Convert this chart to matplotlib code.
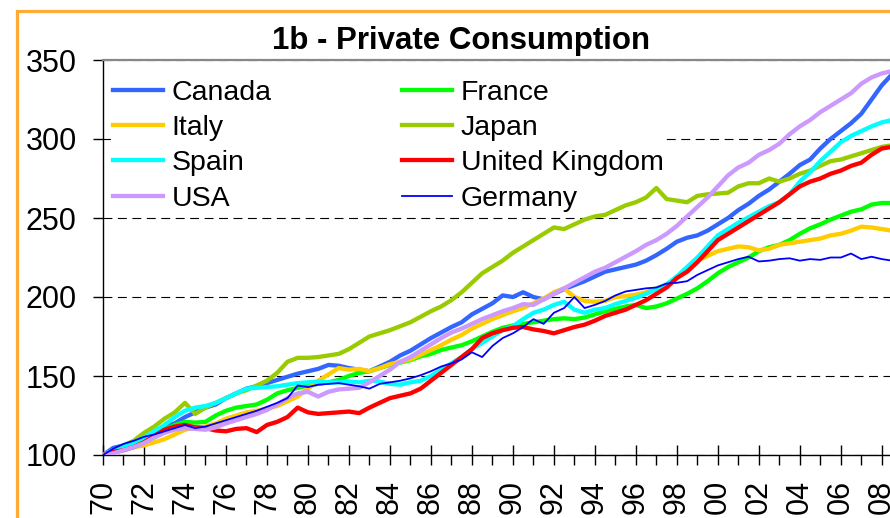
import numpy as np
import matplotlib
matplotlib.use("Agg")
import matplotlib.pyplot as plt
from matplotlib.patches import Rectangle

plt.rcParams["font.family"] = ["Liberation Sans", "DejaVu Sans"]

# half-yearly index, 1970 = 100
years = np.arange(1970, 2009, 0.5)

canada = [100, 104.5, 106, 108.5, 111, 114, 118, 120, 124, 127,
          130, 132, 136, 139, 142, 143.5, 145.5, 147.5, 149.5, 151.5,
          153, 154.5, 157, 156.5, 155, 154, 153, 156, 159, 163,
          166, 170, 174, 177.5, 181, 184, 189, 192.5, 196, 201,
          200, 203, 200, 198.5, 202, 205, 207.5, 210, 213, 216,
          217.5, 219, 220.5, 223, 226.5, 230.5, 235, 237.5, 239, 242,
          246, 250, 255, 259, 264, 268, 273, 278, 283.5, 287,
          294, 300, 305, 310, 316, 325, 334, 341]
france = [100, 102, 104, 106, 109, 112, 116, 119, 121, 120.5,
          121, 125, 128, 130, 131, 132, 135, 139, 141, 142.5,
          144, 145, 146, 147.5, 150, 152, 153, 155, 157, 158.5,
          160, 162.5, 164, 166.5, 168, 169.5, 172, 175, 178, 180.5,
          182, 183, 184, 185, 186, 186.5, 186, 187, 189, 191,
          192.5, 194, 195, 193, 194, 196, 199, 202, 205.5, 210,
          215, 219, 222, 225, 229, 231.5, 233, 236, 240, 243.5,
          246, 249, 251.5, 254, 255.5, 258.5, 259.5, 259.5]
italy = [100, 102, 104, 105, 106, 108, 110, 113, 116, 117.5,
         118, 120, 123, 125, 127, 128, 129.5, 131, 134, 137,
         142, 147, 151, 155, 154, 154.5, 153, 155, 157.5, 159,
         160.5, 163.5, 166.5, 169.5, 173, 176, 180, 183, 186, 188.5,
         191, 193, 196, 199, 203, 205.5, 200, 197.5, 197, 197.5,
         200, 200.5, 201.5, 203, 205.5, 208, 212, 217, 223, 226,
         229, 230.5, 232, 231.5, 229.5, 230.5, 233, 234, 235, 236,
         237, 239, 240, 242, 244.5, 244, 243, 242]
japan = [100, 103, 106, 109, 114, 118, 123, 127, 133, 126,
         130, 133, 136, 139, 141, 144, 147, 152, 159, 161.5,
         161.5, 162, 163, 164, 167, 171, 175, 177, 179, 181.5,
         184, 187.5, 191, 194, 198, 203, 209, 215, 219, 223,
         228, 232, 236, 240, 244, 243, 246, 249, 251, 252,
         255, 258, 260, 263, 269, 262, 261, 260, 264, 265,
         265.5, 266, 270, 272, 272, 275, 273, 275, 278, 280,
         283, 286, 287, 289, 291, 293, 295, 296]
spain = [100, 103, 105, 108, 111, 115, 119, 124, 128, 130,
         131, 133, 136, 139, 142, 142.5, 143, 143.5, 144.5, 145.5,
         146, 146.5, 146, 146, 146.5, 146, 147, 146.5, 145, 144.5,
         146, 147, 150, 154, 158, 162, 167, 171, 175, 179,
         181.5, 186, 190, 192, 195, 197, 192, 190, 192, 193,
         195.5, 197.5, 199.5, 202, 205, 208, 213, 219, 225, 232,
         239, 243, 247, 250.5, 254, 257.5, 260, 265, 273, 279,
         286, 292, 298, 302, 305, 308, 310.5, 312]
uk = [100, 102, 103, 105, 108, 112, 116, 118, 119, 117.5,
      117, 115.5, 115, 116.5, 117, 114.5, 119, 121, 124, 130,
      127, 126, 126.5, 127, 127.5, 126.5, 130, 133, 136, 137.5,
      139, 142, 147, 152, 157, 162, 167, 174, 177, 179,
      180.5, 181, 179.5, 178.5, 177, 179, 181, 182.5, 185, 188,
      190, 192, 195, 198, 202, 206, 212, 216, 222, 229,
      236, 240, 244, 248, 252, 256, 260, 265, 270, 273,
      275, 278, 280, 283, 285, 290, 294, 295]
usa = [100, 101, 103, 105, 107.5, 111, 114, 116, 117, 116.5,
       116, 117.5, 120, 122, 124, 126, 128.5, 132, 136, 139,
       140, 137, 140, 141.5, 142, 142.5, 146, 150, 154, 159,
       162, 166, 170, 174, 177.5, 180, 183, 186, 188.5, 191,
       193, 195.5, 195, 198.5, 202, 205.5, 209, 212.5, 216, 218.5,
       222, 225.5, 229, 233, 236, 240, 245, 251, 257, 263,
       270, 277, 282, 285, 290, 293, 297, 303, 308, 312,
       317, 321, 325, 329, 335, 339, 341.5, 343]
germany = [100, 104, 107, 109, 111.5, 113, 115, 117, 119, 117,
           118, 120, 122, 124, 126, 128, 130.5, 133, 136, 144,
           143, 144.5, 145, 145.5, 144.5, 143.5, 142, 145, 146, 147,
           148.5, 150.5, 153, 156, 158, 160.5, 165, 162, 169, 174,
           177, 181, 186, 183, 190, 193, 200, 193, 195, 197.5,
           201, 203.5, 204.5, 205.5, 206, 208.5, 209, 210, 214, 217,
           220, 222, 224, 225.5, 222.5, 223, 224, 224.5, 223, 224,
           223.5, 225, 225, 227.5, 224, 225.5, 224, 223]

# plotting order as in the source workbook
series = [
    ("Canada", canada, "#3366FF", 3.1),
    ("France", france, "#00FF00", 3.1),
    ("Italy", italy, "#FFCC00", 3.1),
    ("Japan", japan, "#99CC00", 3.1),
    ("Spain", spain, "#00FFFF", 3.1),
    ("United Kingdom", uk, "#FF0000", 3.1),
    ("USA", usa, "#CC99FF", 3.1),
    ("Germany", germany, "#0000FF", 1.3),
]

fig = plt.figure(figsize=(8.9, 5.18), dpi=100)
ax = fig.add_axes([103 / 890, 1 - 455 / 518, 787 / 890, 395 / 518])

lines = {}
for name, vals, color, lw in series:
    (ln,) = ax.plot(years, vals, color=color, lw=lw, label=name, zorder=3,
                    solid_joinstyle="round")
    lines[name] = ln

ax.set_xlim(1970, 2008.4)
ax.set_ylim(100, 350)
ax.set_yticks(np.arange(100, 351, 50))
ax.set_xticks(np.arange(1970, 2009, 2))
ax.set_xticks(np.arange(1971, 2009, 2), minor=True)
ax.set_xticklabels([f"{y % 100:02d}" for y in range(1970, 2009, 2)], rotation=90)

ax.tick_params(axis="y", direction="out", length=7, width=1, labelsize=22, pad=12)
ax.tick_params(axis="x", which="major", direction="inout", length=14, width=1,
               labelsize=22, pad=11)
ax.tick_params(axis="x", which="minor", direction="out", length=7, width=1)

ax.yaxis.grid(True, color="black", linestyle=(0, (8, 5)), linewidth=0.8)
ax.set_axisbelow(True)

ax.spines["right"].set_visible(False)
ax.spines["top"].set_color("#888888")
ax.spines["top"].set_linewidth(1.6)
ax.spines["left"].set_linewidth(1.0)
ax.spines["bottom"].set_linewidth(1.0)

order = ["Canada", "Italy", "Spain", "USA", "France", "Japan", "United Kingdom", "Germany"]
leg = ax.legend([lines[n] for n in order], order, ncol=2, loc="upper left",
                bbox_to_anchor=(0.010, 0.956), borderaxespad=0, fontsize=20.5,
                frameon=True, fancybox=False, edgecolor="none", facecolor="white",
                framealpha=1, handlelength=1.75, handletextpad=0.3,
                columnspacing=4.6, labelspacing=0.33, borderpad=0.08)
leg.set_zorder(2)

fig.text(461 / 890, 1 - 41 / 518, "1b - Private Consumption", ha="center",
         va="center", fontsize=22.5, fontweight="bold")

# orange chart border (right and bottom edges fall outside the crop)
fig.patches.append(Rectangle((16.5 / 890, -0.2), 1.2, 1.2 - 11 / 518,
                             transform=fig.transFigure, fill=False,
                             edgecolor="#FFAA33", linewidth=2.3))

fig.savefig("out.png", dpi=100)
